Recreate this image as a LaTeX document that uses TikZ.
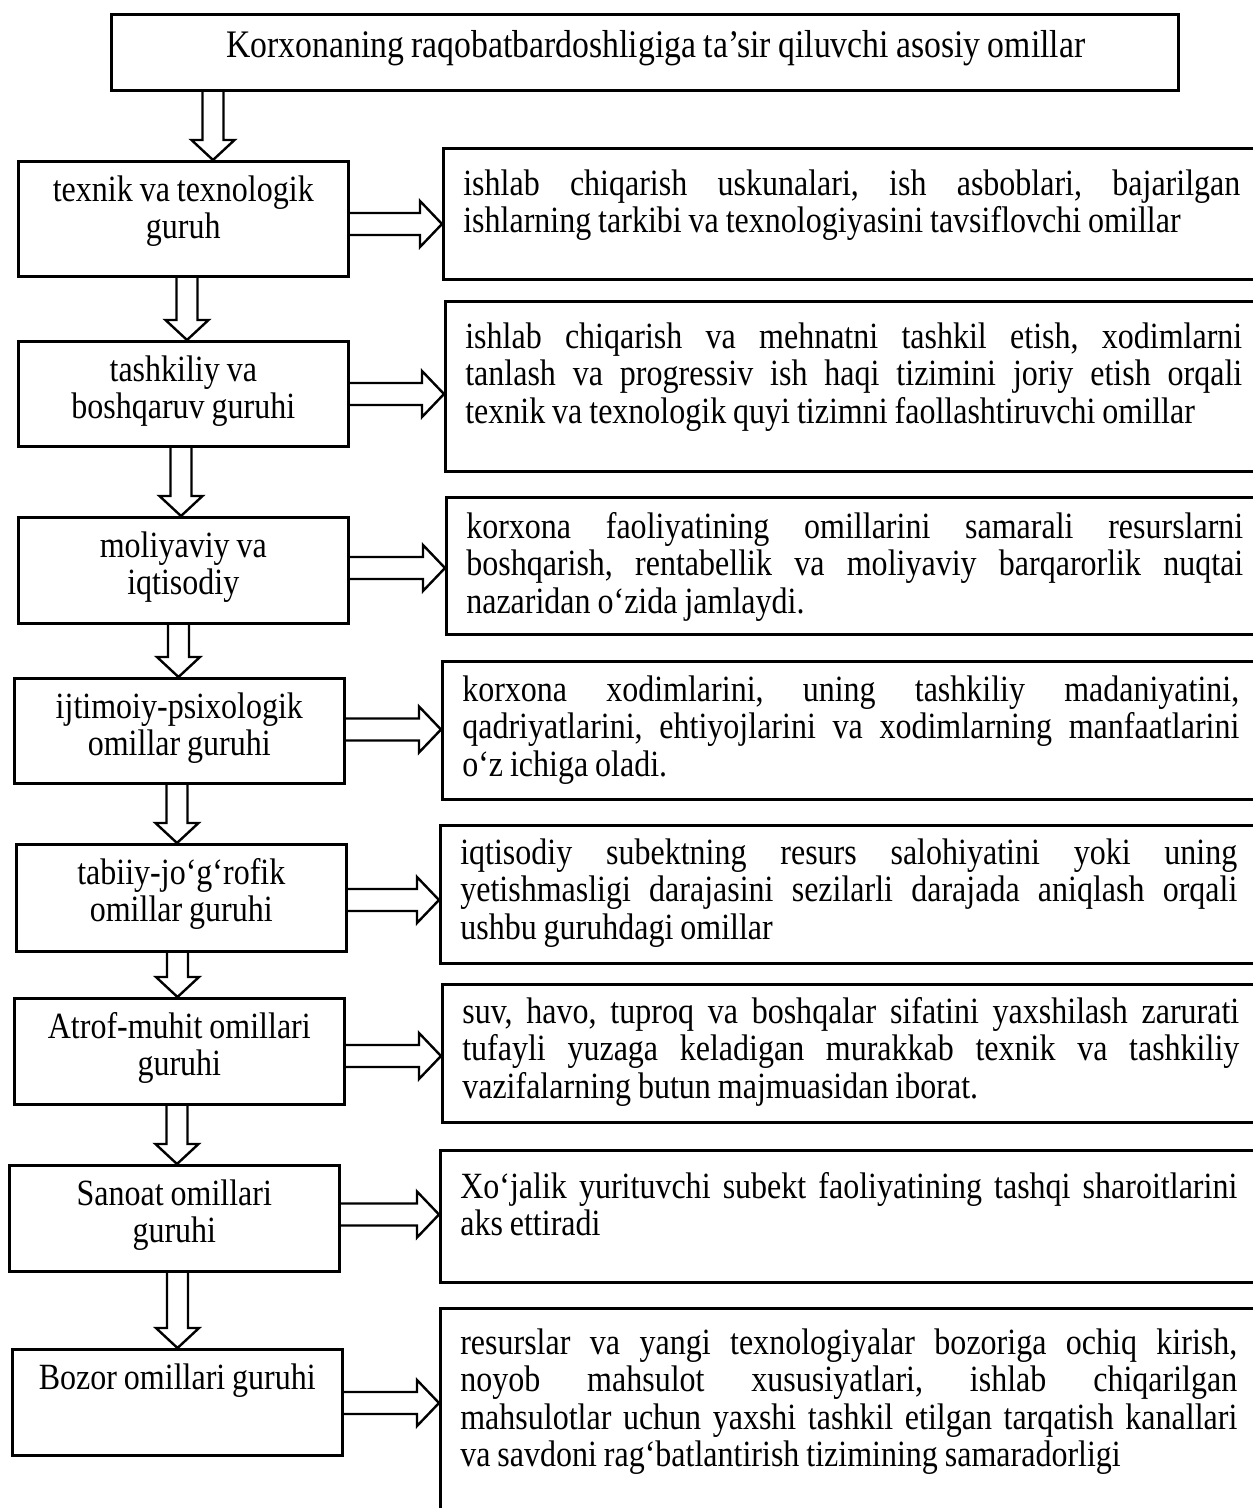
\documentclass[tikz,border=0pt]{standalone}
\usepackage{fontspec}
\setmainfont{Liberation Serif}[FakeStretch=0.865,WordSpace=0.865]
\usetikzlibrary{calc}
\hyphenpenalty=10000
\exhyphenpenalty=10000
\tolerance=9999
\frenchspacing
\newcommand{\downblock}[3]{%
  \draw[blockarrow] let \p1=(#1.south), \p2=(#2.north), \p3=(#3,0) in
    (\x3-10.5pt,\y1) -- (\x3-10.5pt,\y2+20pt) -- (\x3-21.5pt,\y2+20pt) -- (\x3,\y2)
    -- (\x3+21.5pt,\y2+20pt) -- (\x3+10.5pt,\y2+20pt) -- (\x3+10.5pt,\y1);}
\newcommand{\rightblock}[3]{%
  \draw[blockarrow] let \p1=(#1.east), \p2=(#2.west), \p3=(0,#3) in
    (\x1,\y3+11pt) -- (\x2-22pt,\y3+11pt) -- (\x2-22pt,\y3+23pt) -- (\x2,\y3)
    -- (\x2-22pt,\y3-23pt) -- (\x2-22pt,\y3-11pt) -- (\x1,\y3-11pt);}
\begin{document}
\begin{tikzpicture}[x=1pt,y=-1pt,line join=miter,
    font=\fontsize{37}{37.5}\selectfont,
    headbox/.style={draw,line width=2.6pt,anchor=north west,inner sep=0pt,minimum width=1067pt,text height=43pt,text depth=33pt,font=\fontsize{39}{44}\selectfont},
    groupbox/.style={draw,line width=2.6pt,anchor=north west,inner xsep=15pt,inner ysep=0pt,text width=300pt,align=flush center,text height=40pt},
    factbox/.style={draw,line width=2.6pt,anchor=north west,inner xsep=20pt,inner ysep=0pt,text width=777pt,align=justify},
    blockarrow/.style={line width=2.4pt}]
    \useasboundingbox (0,0) rectangle (1253,1508);
    \clip (0,0) rectangle (1253,1508);

    \node[headbox] (head) at (110,13) {\hspace*{22pt}Korxonaning raqobatbardoshligiga ta’sir qiluvchi asosiy omillar};

    \node[groupbox,text depth=75pt] (texnik) at (17,160) {texnik va texnologik\\guruh};
    \node[groupbox,text depth=65pt] (tashkiliy) at (17,340) {tashkiliy va\\boshqaruv guruhi};
    \node[groupbox,text depth=66pt] (moliya) at (17,516) {moliyaviy va\\iqtisodiy};
    \node[groupbox,text depth=65pt] (ijtimoiy) at (13,677) {ijtimoiy-psixologik\\omillar guruhi};
    \node[groupbox,text depth=67pt] (tabiiy) at (15,843) {tabiiy-jo‘g‘rofik\\omillar guruhi};
    \node[groupbox,text depth=66pt] (atrof) at (13,997) {Atrof-muhit omillari\\guruhi};
    \node[groupbox,text depth=66pt] (sanoat) at (8,1164) {Sanoat omillari\\guruhi};
    \node[groupbox,text depth=66pt] (bozor) at (11,1348) {Bozor omillari guruhi};

    \node[factbox,text height=47pt,text depth=84pt] (texnikfact) at (442,147) {ishlab chiqarish uskunalari, ish asboblari, bajarilgan\linebreak ishlarning tarkibi va texnologiyasini tavsiflovchi omillar};
    \node[factbox,text height=47pt,text depth=123pt] (tashkiliyfact) at (444,300) {ishlab chiqarish va mehnatni tashkil etish, xodimlarni\linebreak tanlash va progressiv ish haqi tizimini joriy etish orqali\linebreak texnik va texnologik quyi tizimni faollashtiruvchi omillar};
    \node[factbox,text height=41pt,text depth=96pt] (moliyafact) at (445,496) {korxona faoliyatining omillarini samarali resurslarni\linebreak boshqarish, rentabellik va moliyaviy barqarorlik nuqtai\linebreak nazaridan o‘zida jamlaydi.};
    \node[factbox,text height=40pt,text depth=98pt] (ijtimoiyfact) at (441,660) {korxona xodimlarini, uning tashkiliy madaniyatini,\linebreak qadriyatlarini, ehtiyojlarini va xodimlarning manfaatlarini\linebreak o‘z ichiga oladi.};
    \node[factbox,text height=39pt,text depth=99pt] (tabiiyfact) at (439,824) {iqtisodiy subektning resurs salohiyatini yoki uning\linebreak yetishmasligi darajasini sezilarli darajada aniqlash orqali\linebreak ushbu guruhdagi omillar};
    \node[factbox,text height=39pt,text depth=99pt] (atroffact) at (441,983) {suv, havo, tuproq va boshqalar sifatini yaxshilash zarurati\linebreak tufayli yuzaga keladigan murakkab texnik va tashkiliy\linebreak vazifalarning butun majmuasidan iborat.};
    \node[factbox,text height=48pt,text depth=84pt] (sanoatfact) at (439,1149) {Xo‘jalik yurituvchi subekt faoliyatining tashqi sharoitlarini\linebreak aks ettiradi};
    \node[factbox,text height=46pt,text depth=180pt] (bozorfact) at (439,1307) {resurslar va yangi texnologiyalar bozoriga ochiq kirish,\linebreak noyob mahsulot xususiyatlari, ishlab chiqarilgan\linebreak mahsulotlar uchun yaxshi tashkil etilgan tarqatish kanallari\linebreak va savdoni rag‘batlantirish tizimining samaradorligi};

    \downblock{head}{texnik}{213}
    \downblock{texnik}{tashkiliy}{187}
    \downblock{tashkiliy}{moliya}{181}
    \downblock{moliya}{ijtimoiy}{178.5}
    \downblock{ijtimoiy}{tabiiy}{177}
    \downblock{tabiiy}{atrof}{177.5}
    \downblock{atrof}{sanoat}{177}
    \downblock{sanoat}{bozor}{177.5}

    \rightblock{texnik}{texnikfact}{224}
    \rightblock{tashkiliy}{tashkiliyfact}{394}
    \rightblock{moliya}{moliyafact}{568}
    \rightblock{ijtimoiy}{ijtimoiyfact}{729.5}
    \rightblock{tabiiy}{tabiiyfact}{900}
    \rightblock{atrof}{atroffact}{1056}
    \rightblock{sanoat}{sanoatfact}{1214.5}
    \rightblock{bozor}{bozorfact}{1403}
\end{tikzpicture}
\end{document}
